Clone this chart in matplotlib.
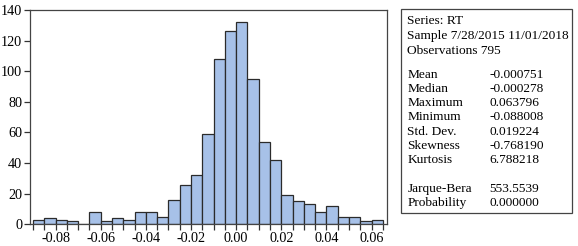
import numpy as np
import matplotlib
matplotlib.use('Agg')
from matplotlib import pyplot as plt
from matplotlib.patches import Rectangle

# histogram of RT, bins of 0.005 starting at -0.09
bin_start = -0.09
bin_width = 0.005
counts = [3, 4, 3, 2, 0, 8, 2, 4, 3, 8, 8, 5, 16, 26, 32,
          59, 108, 126, 132, 95, 54, 42, 19, 15, 13, 8, 12, 5, 5, 2, 3]

x_ticks = [-0.08, -0.06, -0.04, -0.02, 0.00, 0.02, 0.04, 0.06]
y_ticks = [0, 20, 40, 60, 80, 100, 120, 140]

header = ["Series: RT", "Sample 7/28/2015 11/01/2018", "Observations 795"]
stat_names = ["Mean", "Median", "Maximum", "Minimum", "Std. Dev.",
              "Skewness", "Kurtosis", "", "Jarque-Bera", "Probability"]
stat_values = ["-0.000751", "-0.000278", "0.063796", "-0.088008", "0.019224",
               "-0.768190", "6.788218", "", "553.5539", "0.000000"]

plt.rcParams['font.family'] = ['Liberation Serif', 'DejaVu Serif']
plt.rcParams['axes.unicode_minus'] = False

W, H = 578, 246
fig = plt.figure(figsize=(W / 100, H / 100), dpi=100)

def px(x0, y0, x1, y1):
    return [x0 / W, 1 - y1 / H, (x1 - x0) / W, (y1 - y0) / H]

ax = fig.add_axes(px(30, 10, 387, 224.3))
edges = bin_start + bin_width * np.arange(len(counts) + 1)
ax.bar(edges[:-1], counts, width=bin_width, align='edge',
       color='#a7c1e8', edgecolor='#2b2b2b', linewidth=0.9)

ax.set_xlim(-0.0913, 0.0668)
ax.set_ylim(0, 140)
ax.set_xticks(x_ticks)
ax.set_xticklabels([f'{v:.2f}' for v in x_ticks])
ax.set_xticks(edges[(edges > -0.0913) & (edges < 0.0668)], minor=True)
ax.set_yticks(y_ticks)
ax.tick_params(axis='both', which='both', direction='out', length=4,
               width=0.9, color='#333333', labelsize=10.2, pad=1.5)
ax.tick_params(axis='x', which='minor', length=4)
for s in ax.spines.values():
    s.set_color('#444444')
    s.set_linewidth(0.9)

# statistics box
bx = px(400.7, 9.0, 572.0, 212.7)
fig.patches.append(Rectangle((bx[0], bx[1]), bx[2], bx[3], transform=fig.transFigure,
                             fill=False, edgecolor='#444444', linewidth=0.9))

fs = 9.6
label_x = 407.3 / W
value_x = 489.7 / W
header_y = [24.0, 39.3, 54.3]
for t, y in zip(header, header_y):
    fig.text(label_x, 1 - y / H, t, fontsize=fs, va='baseline', ha='left')

y = 77.7
for n, v in zip(stat_names, stat_values):
    if n:
        fig.text(label_x, 1 - y / H, n, fontsize=fs, va='baseline', ha='left')
        fig.text(value_x, 1 - y / H, v, fontsize=fs, va='baseline', ha='left')
    y += 14.25

fig.savefig('out.png', dpi=100)
plt.close(fig)
